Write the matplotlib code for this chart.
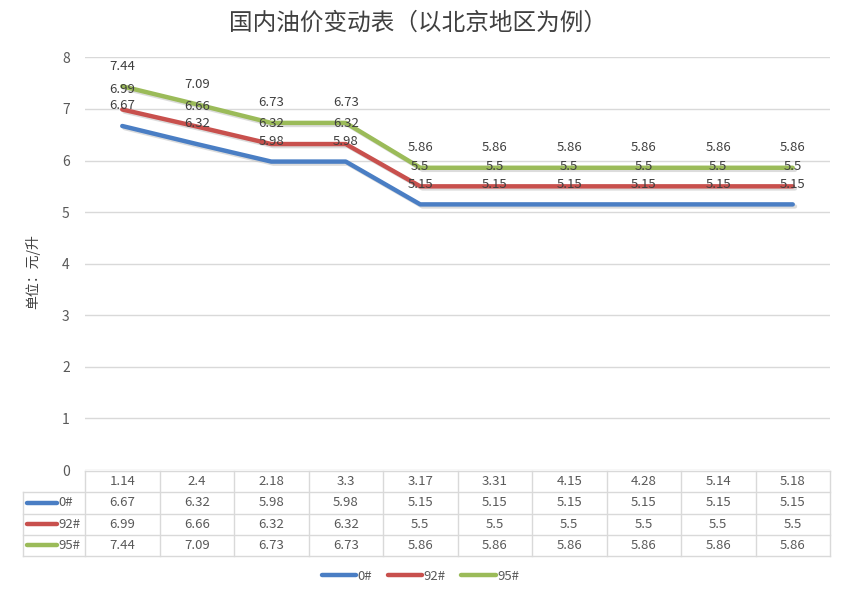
#!/usr/bin/env python3
"""
国内油价变动表 - line chart with an Excel-style data table underneath.
"""

import matplotlib
matplotlib.use("Agg")
import matplotlib.pyplot as plt
import numpy as np

plt.rcParams['font.family'] = ['Noto Sans CJK SC', 'DejaVu Sans']

# Data
dates = ['1.14', '2.4', '2.18', '3.3', '3.17', '3.31', '4.15', '4.28', '5.14', '5.18']
series_names = ['0#', '92#', '95#']
diesel_0 = [6.67, 6.32, 5.98, 5.98, 5.15, 5.15, 5.15, 5.15, 5.15, 5.15]
gas_92 = [6.99, 6.66, 6.32, 6.32, 5.5, 5.5, 5.5, 5.5, 5.5, 5.5]
gas_95 = [7.44, 7.09, 6.73, 6.73, 5.86, 5.86, 5.86, 5.86, 5.86, 5.86]
colors = ['#4A7EC4', '#C8504D', '#9BBB59']

W, H = 846, 596
TEXT = '#595959'
GRID = '#D9D9D9'


def px_x(x):
    return x / W


def px_y(y):
    return 1 - y / H


def main():
    fig = plt.figure(figsize=(W / 100, H / 100), dpi=100)
    fig.patch.set_facecolor('white')

    # Main plot area
    left, right = 85, 830
    top, bottom = 57.4, 470
    ax = fig.add_axes([px_x(left), px_y(bottom), px_x(right - left), px_y(top) - px_y(bottom)])
    x = np.arange(len(dates))
    all_series = [diesel_0, gas_92, gas_95]

    for vals, name, c in zip(all_series, series_names, colors):
        # soft shadow under the line
        ax.plot(x + 0.03, np.array(vals) - 0.04, color='#BBBBBB', lw=3.2, alpha=0.5,
                solid_capstyle='round', zorder=2)
        ax.plot(x, vals, color=c, lw=3.2, label=name, solid_capstyle='round', zorder=3)
        for xi, v in zip(x, vals):
            ax.annotate(f'{v:g}', (xi, v), xytext=(0, 14.5), textcoords='offset points',
                        ha='center', va='center', fontsize=9.5, color='#404040', zorder=4)

    ax.set_xlim(-0.5, len(dates) - 0.5)
    ax.set_ylim(0, 8)
    ax.set_yticks(range(0, 9))
    ax.set_xticks([])
    ax.grid(axis='y', color=GRID, lw=1)
    ax.set_axisbelow(True)
    for s in ax.spines.values():
        s.set_visible(False)
    ax.tick_params(axis='y', length=0, pad=11, labelsize=10, labelcolor=TEXT)

    # Title and y label
    fig.text(0.494, px_y(23), '国内油价变动表（以北京地区为例）', ha='center', va='center',
             fontsize=17, color='#404040', fontweight='medium')
    fig.text(px_x(33), px_y(272), '单位：元/升', rotation=90, ha='center', va='center',
             fontsize=10, color='#404040')

    # Data table below the plot
    t_left, t_top, t_bottom = 23, 471, 556
    col_w = (right - left) / len(dates)
    lab_w = (left - t_left) / col_w
    tax = fig.add_axes([px_x(t_left), px_y(t_bottom), px_x(right - t_left),
                        px_y(t_top) - px_y(t_bottom)])
    tax.set_xlim(-0.5 - lab_w, len(dates) - 0.5)
    tax.set_ylim(4, 0)
    tax.axis('off')

    n = len(dates)
    # horizontal rules
    tax.plot([-0.5, n - 0.5], [0, 0], color=GRID, lw=1, clip_on=False)
    for r in range(1, 5):
        tax.plot([-0.5 - lab_w, n - 0.5], [r, r], color=GRID, lw=1, clip_on=False)
    # vertical rules
    tax.plot([-0.5 - lab_w, -0.5 - lab_w], [1, 4], color=GRID, lw=1, clip_on=False)
    for c in range(n + 1):
        tax.plot([c - 0.5, c - 0.5], [0, 4], color=GRID, lw=1, clip_on=False)

    for i, d in enumerate(dates):
        tax.text(i, 0.5, d, ha='center', va='center', fontsize=9.5, color=TEXT)
    for r, (vals, name, c) in enumerate(zip(all_series, series_names, colors), start=1):
        x0 = -0.5 - lab_w + 0.06
        tax.plot([x0, x0 + 0.4], [r + 0.5, r + 0.5], color=c, lw=3.2, solid_capstyle='round')
        tax.text(x0 + 0.42, r + 0.5, name, ha='left', va='center', fontsize=9.5, color=TEXT)
        for i, v in enumerate(vals):
            tax.text(i, r + 0.5, f'{v:g}', ha='center', va='center', fontsize=9.5, color=TEXT)

    # Legend
    handles, labels = ax.get_legend_handles_labels()
    fig.legend(handles, labels, loc='center', bbox_to_anchor=(0.497, px_y(576)), ncol=3,
               frameon=False, fontsize=9.5, handlelength=2.6, handletextpad=0.1,
               columnspacing=1.2, labelcolor=TEXT)

    fig.savefig('out.png', dpi=100)


if __name__ == '__main__':
    main()
